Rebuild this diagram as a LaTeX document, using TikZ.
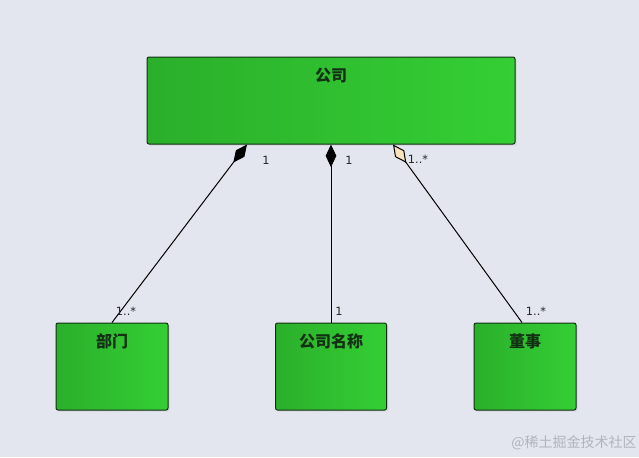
\documentclass[tikz,border=0pt]{standalone}
\usepackage{fontspec}
\setmainfont{DejaVu Sans}
\newfontfamily\cjk{Noto Sans CJK SC}
\usepackage{xcolor}
\usepackage{tikz}
\usetikzlibrary{positioning,arrows.meta,shadows}
\definecolor{fondo}{HTML}{E3E6EE}
\definecolor{verdeosc}{HTML}{2BAF2B}
\definecolor{verdeclaro}{HTML}{34CF34}
\definecolor{borde}{HTML}{143014}
\definecolor{crema}{HTML}{FAE3BC}
\definecolor{marca}{HTML}{B0B4BC}

\begin{document}
\begin{tikzpicture}[
  x=0.75pt, y=-0.75pt,
  clase/.style={draw=borde, left color=verdeosc, right color=verdeclaro, rounded corners=1.5pt, inner sep=0pt, line width=0.75pt, minimum height=65.25pt, drop shadow={shadow xshift=1.2pt, shadow yshift=-1.2pt, opacity=0.18}},
  titulo/.style={font=\cjk\bfseries\fontsize{12}{14}\selectfont, text=borde, anchor=center, yshift=-14pt},
  comp/.style={{Diamond[length=17pt, width=8pt]}-, line width=0.75pt, black},
  agreg/.style={{Diamond[length=17pt, width=8.5pt, fill=crema]}-, line width=0.75pt, black},
  mult/.style={font=\fontsize{8.5}{10}\selectfont, text=black!85, inner sep=0pt}
]
\useasboundingbox[fill=fondo] (0,0) rectangle (639,457);

% clases
\node[clase, minimum width=276pt, label={[titulo]north:公司}] (empresa) at (331,100.5) {};
\node[clase, minimum width=84pt, label={[titulo]north:部门}] (depto) at (112,366.5) {};
\node[clase, minimum width=83.25pt, label={[titulo]north:公司名称}] (nombre) at (331,366.5) {};
\node[clase, minimum width=76.5pt, label={[titulo]north:董事}] (director) at (525,366.5) {};

% relaciones
\draw[comp] ([xshift=-63pt]empresa.south) -- (depto.north);
\draw[comp] (empresa.south) -- (nombre.north);
\draw[agreg] ([xshift=46.5pt]empresa.south) -- ([xshift=-2.25pt]director.north);

% multiplicidades
\node[mult] (m1) at (266,160) {1};
\node[mult] (m2) at (349,160) {1};
\node[mult] (m3) at (418,159) {1..*};
\node[mult] (m4) at (126,311) {1..*};
\node[mult] (m5) at (339,311) {1};
\node[mult] (m6) at (536,311) {1..*};

\node[font=\cjk\fontsize{10.5}{12}\selectfont, text=marca] (firma) at (574,443) {@稀土掘金技术社区};
\end{tikzpicture}
\end{document}
